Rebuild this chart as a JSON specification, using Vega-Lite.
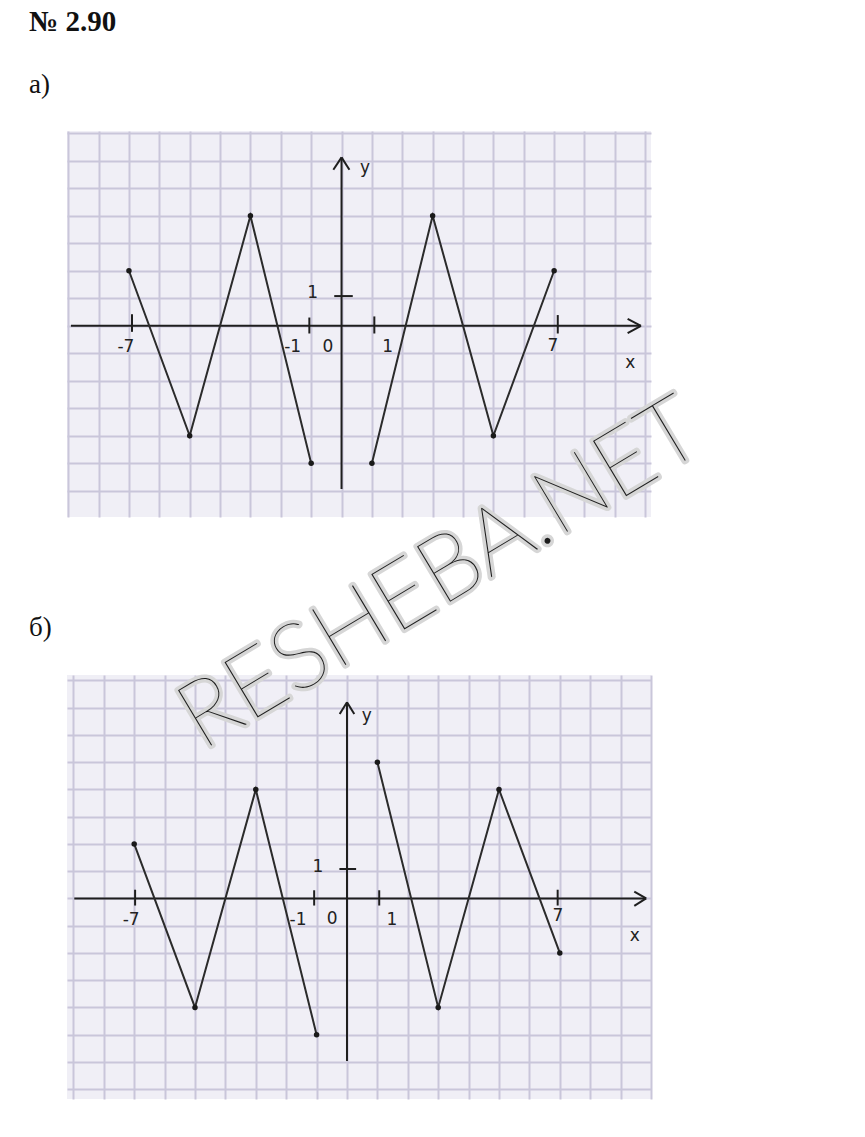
{
  "$schema": "https://vega.github.io/schema/vega-lite/v6.json",
  "background": "white",
  "padding": {"left": 28, "top": 8, "right": 10, "bottom": 10},
  "title": {"text": "№ 2.90", "anchor": "start", "font": "Liberation Serif", "fontSize": 29, "fontWeight": "bold", "color": "#111111", "baseline": "alphabetic", "offset": 11},
  "bounds": "flush",
  "spacing": 158,
  "config": {
    "view": {"stroke": null, "fill": "#f0eff6"},
    "axis": {"grid": true, "gridColor": "#c9c6da", "gridWidth": 2, "gridOpacity": 1, "labels": false, "ticks": false, "domain": false, "title": null}
  },
  "datasets": {
    "curveA": [
      {"piece": "L", "x": -7, "y": 2}, {"piece": "L", "x": -5, "y": -4}, {"piece": "L", "x": -3, "y": 4}, {"piece": "L", "x": -1, "y": -5},
      {"piece": "R", "x": 1, "y": -5}, {"piece": "R", "x": 3, "y": 4}, {"piece": "R", "x": 5, "y": -4}, {"piece": "R", "x": 7, "y": 2}
    ],
    "curveB": [
      {"piece": "L", "x": -7, "y": 2}, {"piece": "L", "x": -5, "y": -4}, {"piece": "L", "x": -3, "y": 4}, {"piece": "L", "x": -1, "y": -5},
      {"piece": "R", "x": 1, "y": 5}, {"piece": "R", "x": 3, "y": -4}, {"piece": "R", "x": 5, "y": 4}, {"piece": "R", "x": 7, "y": -2}
    ],
    "segA": [
      {"x": -8.91, "y": 0, "x2": 9.86, "y2": 0},
      {"x": 9.86, "y": 0, "x2": 9.42, "y2": 0.25},
      {"x": 9.86, "y": 0, "x2": 9.42, "y2": -0.27},
      {"x": 0, "y": -5.93, "x2": 0, "y2": 6.12},
      {"x": 0, "y": 6.12, "x2": -0.27, "y2": 5.67},
      {"x": 0, "y": 6.12, "x2": 0.26, "y2": 5.67},
      {"x": -6.9, "y": -0.22, "x2": -6.9, "y2": 0.42},
      {"x": -1.06, "y": -0.28, "x2": -1.06, "y2": 0.3},
      {"x": 1.08, "y": -0.28, "x2": 1.08, "y2": 0.34},
      {"x": 7.12, "y": -0.28, "x2": 7.12, "y2": 0.39},
      {"x": -0.24, "y": 1.08, "x2": 0.37, "y2": 1.08}
    ],
    "segB": [
      {"x": -8.97, "y": 0, "x2": 9.84, "y2": 0},
      {"x": 9.84, "y": 0, "x2": 9.45, "y2": 0.25},
      {"x": 9.84, "y": 0, "x2": 9.45, "y2": -0.27},
      {"x": 0, "y": -5.97, "x2": 0, "y2": 7.2},
      {"x": 0, "y": 7.2, "x2": -0.24, "y2": 6.77},
      {"x": 0, "y": 7.2, "x2": 0.24, "y2": 6.77},
      {"x": -6.97, "y": -0.26, "x2": -6.97, "y2": 0.32},
      {"x": -1.08, "y": -0.26, "x2": -1.08, "y2": 0.3},
      {"x": 1.06, "y": -0.26, "x2": 1.06, "y2": 0.3},
      {"x": 6.93, "y": -0.26, "x2": 6.93, "y2": 0.32},
      {"x": -0.25, "y": 1.08, "x2": 0.3, "y2": 1.08}
    ],
    "labA": [
      {"t": "-7", "x": -7.1, "y": -0.77}, {"t": "-1", "x": -1.61, "y": -0.77}, {"t": "0", "x": -0.45, "y": -0.77},
      {"t": "1", "x": 1.52, "y": -0.77}, {"t": "7", "x": 6.96, "y": -0.72}, {"t": "x", "x": 9.51, "y": -1.37},
      {"t": "y", "x": 0.77, "y": 5.73}, {"t": "1", "x": -0.95, "y": 1.18}
    ],
    "labB": [
      {"t": "-7", "x": -7.1, "y": -0.78}, {"t": "-1", "x": -1.61, "y": -0.78}, {"t": "0", "x": -0.49, "y": -0.75},
      {"t": "1", "x": 1.48, "y": -0.78}, {"t": "7", "x": 6.94, "y": -0.66}, {"t": "x", "x": 9.47, "y": -1.37},
      {"t": "y", "x": 0.65, "y": 6.7}, {"t": "1", "x": -0.96, "y": 1.15}
    ],
    "headB": [{"t": "б)", "x": -10.46, "y": 9.62}],
    "mark": [{"t": "RESHEBA.NET", "x": -4.77, "y": 5.41}]
  },
  "vconcat": [
    {
      "width": 584,
      "height": 386,
      "title": {"text": "а)", "anchor": "start", "dx": -38, "font": "Liberation Serif", "fontSize": 27, "fontWeight": "normal", "color": "#111111", "baseline": "alphabetic", "offset": 11},
      "encoding": {
        "x": {"field": "x", "type": "quantitative", "scale": {"domain": [-9.04, 10.19], "nice": false, "zero": false}, "axis": {"values": [-9, -8, -7, -6, -5, -4, -3, -2, -1, 0, 1, 2, 3, 4, 5, 6, 7, 8, 9, 10]}},
        "y": {"field": "y", "type": "quantitative", "scale": {"domain": [-6.95, 7.08], "nice": false, "zero": false}, "axis": {"values": [-6, -5, -4, -3, -2, -1, 0, 1, 2, 3, 4, 5, 6, 7]}}
      },
      "layer": [
        {"data": {"name": "segA"}, "mark": {"type": "rule", "color": "#1e1e1e", "strokeWidth": 2}, "encoding": {"x2": {"field": "x2"}, "y2": {"field": "y2"}}},
        {"data": {"name": "curveA"}, "mark": {"type": "line", "color": "#2b2b2b", "strokeWidth": 2}, "encoding": {"detail": {"field": "piece", "type": "nominal"}}},
        {"data": {"name": "curveA"}, "mark": {"type": "point", "filled": true, "color": "#1a1a1a", "size": 30, "opacity": 1}},
        {"data": {"name": "labA"}, "mark": {"type": "text", "font": "DejaVu Sans", "fontSize": 17, "color": "#222222", "baseline": "middle", "align": "center"}, "encoding": {"text": {"field": "t"}}}
      ]
    },
    {
      "width": 584,
      "height": 424,
      "encoding": {
        "x": {"field": "x", "type": "quantitative", "scale": {"domain": [-9.21, 10.0], "nice": false, "zero": false}, "axis": {"values": [-9, -8, -7, -6, -5, -4, -3, -2, -1, 0, 1, 2, 3, 4, 5, 6, 7, 8, 9, 10]}},
        "y": {"field": "y", "type": "quantitative", "scale": {"domain": [-7.36, 8.2], "nice": false, "zero": false}, "axis": {"values": [-7, -6, -5, -4, -3, -2, -1, 0, 1, 2, 3, 4, 5, 6, 7, 8]}}
      },
      "layer": [
        {"data": {"name": "segB"}, "mark": {"type": "rule", "color": "#1e1e1e", "strokeWidth": 2}, "encoding": {"x2": {"field": "x2"}, "y2": {"field": "y2"}}},
        {"data": {"name": "curveB"}, "mark": {"type": "line", "color": "#2b2b2b", "strokeWidth": 2}, "encoding": {"detail": {"field": "piece", "type": "nominal"}}},
        {"data": {"name": "curveB"}, "mark": {"type": "point", "filled": true, "color": "#1a1a1a", "size": 30, "opacity": 1}},
        {"data": {"name": "labB"}, "mark": {"type": "text", "font": "DejaVu Sans", "fontSize": 17, "color": "#222222", "baseline": "middle", "align": "center"}, "encoding": {"text": {"field": "t"}}},
        {"data": {"name": "headB"}, "mark": {"type": "text", "font": "Liberation Serif", "fontSize": 27, "color": "#111111", "baseline": "alphabetic", "align": "left"}, "encoding": {"text": {"field": "t"}}},
        {"data": {"name": "mark"}, "mark": {"type": "text", "font": "Lato", "fontWeight": 100, "fontSize": 92, "angle": -31, "align": "left", "baseline": "alphabetic", "fill": "#d6d6d6", "stroke": "#d6d6d6", "strokeWidth": 7, "strokeJoin": "round"}, "encoding": {"text": {"field": "t"}}},
        {"data": {"name": "mark"}, "mark": {"type": "text", "font": "Lato", "fontWeight": 100, "fontSize": 92, "angle": -31, "align": "left", "baseline": "alphabetic", "fill": "#1c1c1c"}, "encoding": {"text": {"field": "t"}}}
      ]
    }
  ]
}
